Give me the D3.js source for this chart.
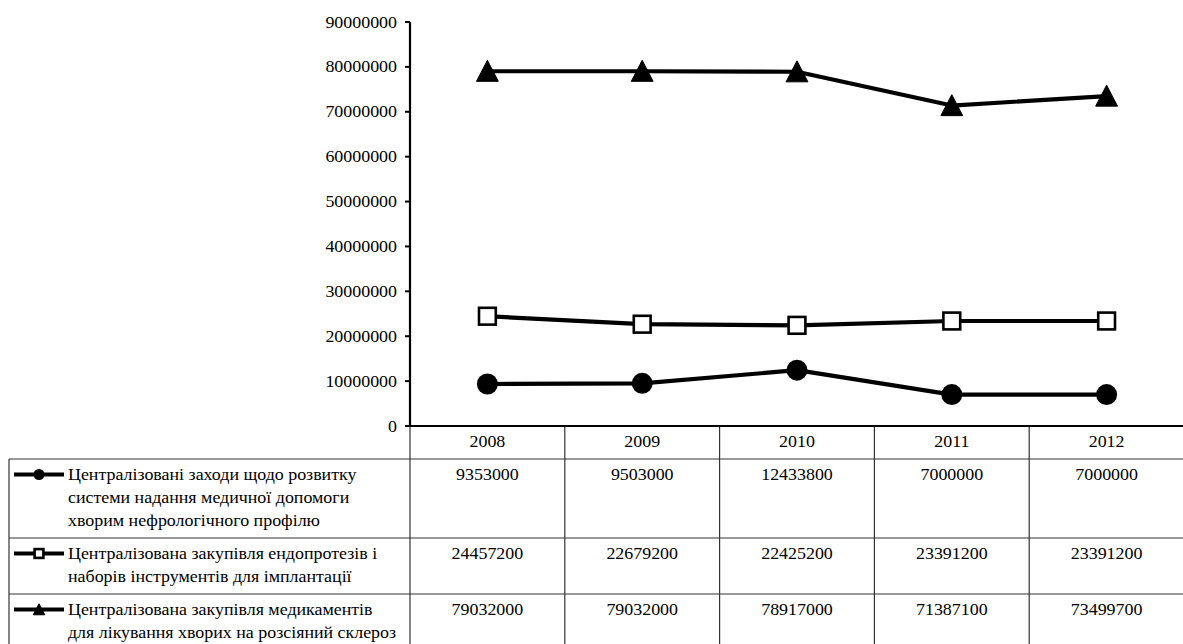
<!DOCTYPE html>
<html>
<head>
<meta charset="utf-8">
<script src="https://cdn.jsdelivr.net/npm/d3@7"></script>
<style>
  html, body { margin: 0; padding: 0; background: #fff; }
  svg { display: block; }
</style>
</head>
<body>
<svg id="chart" width="1183" height="644"></svg>
<script>
// Years along the x axis / table header
const years = ["2008", "2009", "2010", "2011", "2012"];

// Series values, UAH
const nephrology = [9353000, 9503000, 12433800, 7000000, 7000000];
const endoprosthesis = [24457200, 22679200, 22425200, 23391200, 23391200];
const sclerosis = [79032000, 79032000, 78917000, 71387100, 73499700];

// Series names (wrapped lines as shown in the table)
const seriesNames = [
  ["Централізовані заходи щодо розвитку", "системи надання медичної допомоги", "хворим нефрологічного профілю"],
  ["Централізована закупівля ендопротезів і", "наборів інструментів для імплантації"],
  ["Централізована закупівля медикаментів", "для лікування хворих на розсіяний склероз"]
];

// Y axis tick values
const yTicks = [0, 10000000, 20000000, 30000000, 40000000, 50000000, 60000000, 70000000, 80000000, 90000000];

const series = [
  { name: seriesNames[0], values: nephrology, marker: "circle" },
  { name: seriesNames[1], values: endoprosthesis, marker: "square" },
  { name: seriesNames[2], values: sclerosis, marker: "triangle" }
];

const svg = d3.select("#chart");
const W = 1183;
const axisX = 410, plotRight = 1184;
const yTop = 22, yBottom = 426;
const tableLeft = 9;
const rowTops = [459, 538, 594, 652];
const SX = 1.12;   // horizontal stretch of the type
const FS = 16;
const FONT = "Liberation Serif";

const x = d3.scaleBand().domain(years).range([axisX, plotRight]).padding(0);
const y = d3.scaleLinear().domain([0, 90000000]).range([yBottom, yTop]);

// stretched text helper
function label(g, tx, ty, str, anchor) {
  return g.append("text")
    .attr("transform", `translate(${tx},${ty}) scale(${SX},1)`)
    .attr("text-anchor", anchor || "start")
    .attr("font-family", FONT)
    .attr("font-size", FS)
    .attr("fill", "#000")
    .text(str);
}

// ---- Y axis ----
const yAxis = svg.append("g");
yAxis.append("line")
  .attr("x1", axisX).attr("x2", axisX)
  .attr("y1", y(90000000)).attr("y2", yBottom)
  .attr("stroke", "#000").attr("stroke-width", 2.2);
yTicks.forEach(v => {
  yAxis.append("line")
    .attr("x1", axisX - 5).attr("x2", axisX)
    .attr("y1", y(v)).attr("y2", y(v))
    .attr("stroke", "#000").attr("stroke-width", 2);
  label(yAxis, 397, y(v) + 5.5, String(v), "end");
});

// ---- Table grid ----
const grid = svg.append("g").attr("stroke", "#333").attr("stroke-width", 1.2);
// column separators
x.domain().forEach(d => {
  grid.append("line").attr("x1", x(d)).attr("x2", x(d))
    .attr("y1", yBottom).attr("y2", 644);
});
// left edge of table
grid.append("line").attr("x1", tableLeft).attr("x2", tableLeft)
  .attr("y1", rowTops[0]).attr("y2", 644);
// row separators
rowTops.slice(0, 3).forEach(r => {
  grid.append("line").attr("x1", tableLeft).attr("x2", W)
    .attr("y1", r).attr("y2", r);
});

// X axis (baseline of the plot, top of the header row)
svg.append("line")
  .attr("x1", axisX).attr("x2", plotRight)
  .attr("y1", yBottom).attr("y2", yBottom)
  .attr("stroke", "#000").attr("stroke-width", 2.2);

// Header years
const head = svg.append("g");
years.forEach(yr => label(head, x(yr) + x.bandwidth() / 2, 447, yr, "middle"));

// ---- markers ----
function drawMarker(g, type, cx, cy, size) {
  if (type === "circle") {
    g.append("circle").attr("cx", cx).attr("cy", cy).attr("r", size / 2).attr("fill", "#000");
  } else if (type === "square") {
    const s = size * 0.8;
    g.append("rect").attr("x", cx - s / 2).attr("y", cy - s / 2)
      .attr("width", s).attr("height", s)
      .attr("fill", "#fff").attr("stroke", "#000").attr("stroke-width", 2.6);
  } else {
    const h = size;
    g.append("path")
      .attr("d", `M${cx},${cy - h * 0.52} L${cx + h * 0.52},${cy + h * 0.48} L${cx - h * 0.52},${cy + h * 0.48} Z`)
      .attr("fill", "#000").attr("stroke", "#000").attr("stroke-width", 1).attr("stroke-linejoin", "round");
  }
}

const line = d3.line()
  .x((d, i) => x(years[i]) + x.bandwidth() / 2)
  .y(d => y(d));

const plot = svg.append("g");
series.forEach(s => {
  plot.append("path")
    .attr("d", line(s.values))
    .attr("fill", "none").attr("stroke", "#000").attr("stroke-width", 4.2)
    .attr("stroke-linejoin", "round");
  s.values.forEach((v, i) => drawMarker(plot, s.marker, x(years[i]) + x.bandwidth() / 2, y(v), 21));
});

// ---- table body: legend keys, names and values ----
const body = svg.append("g");
const lineGap = 23;
series.forEach((s, r) => {
  const top = rowTops[r];
  const firstBase = top + 21;
  const keyY = firstBase - 5.5;
  body.append("line").attr("x1", 14).attr("x2", 64)
    .attr("y1", keyY).attr("y2", keyY)
    .attr("stroke", "#000").attr("stroke-width", 4);
  drawMarker(body, s.marker, 39, keyY, 11);
  s.name.forEach((t, k) => label(body, 68, firstBase + k * lineGap, t, "start"));
  s.values.forEach((v, i) => label(body, x(years[i]) + x.bandwidth() / 2, firstBase, String(v), "middle"));
});
</script>
</body>
</html>
